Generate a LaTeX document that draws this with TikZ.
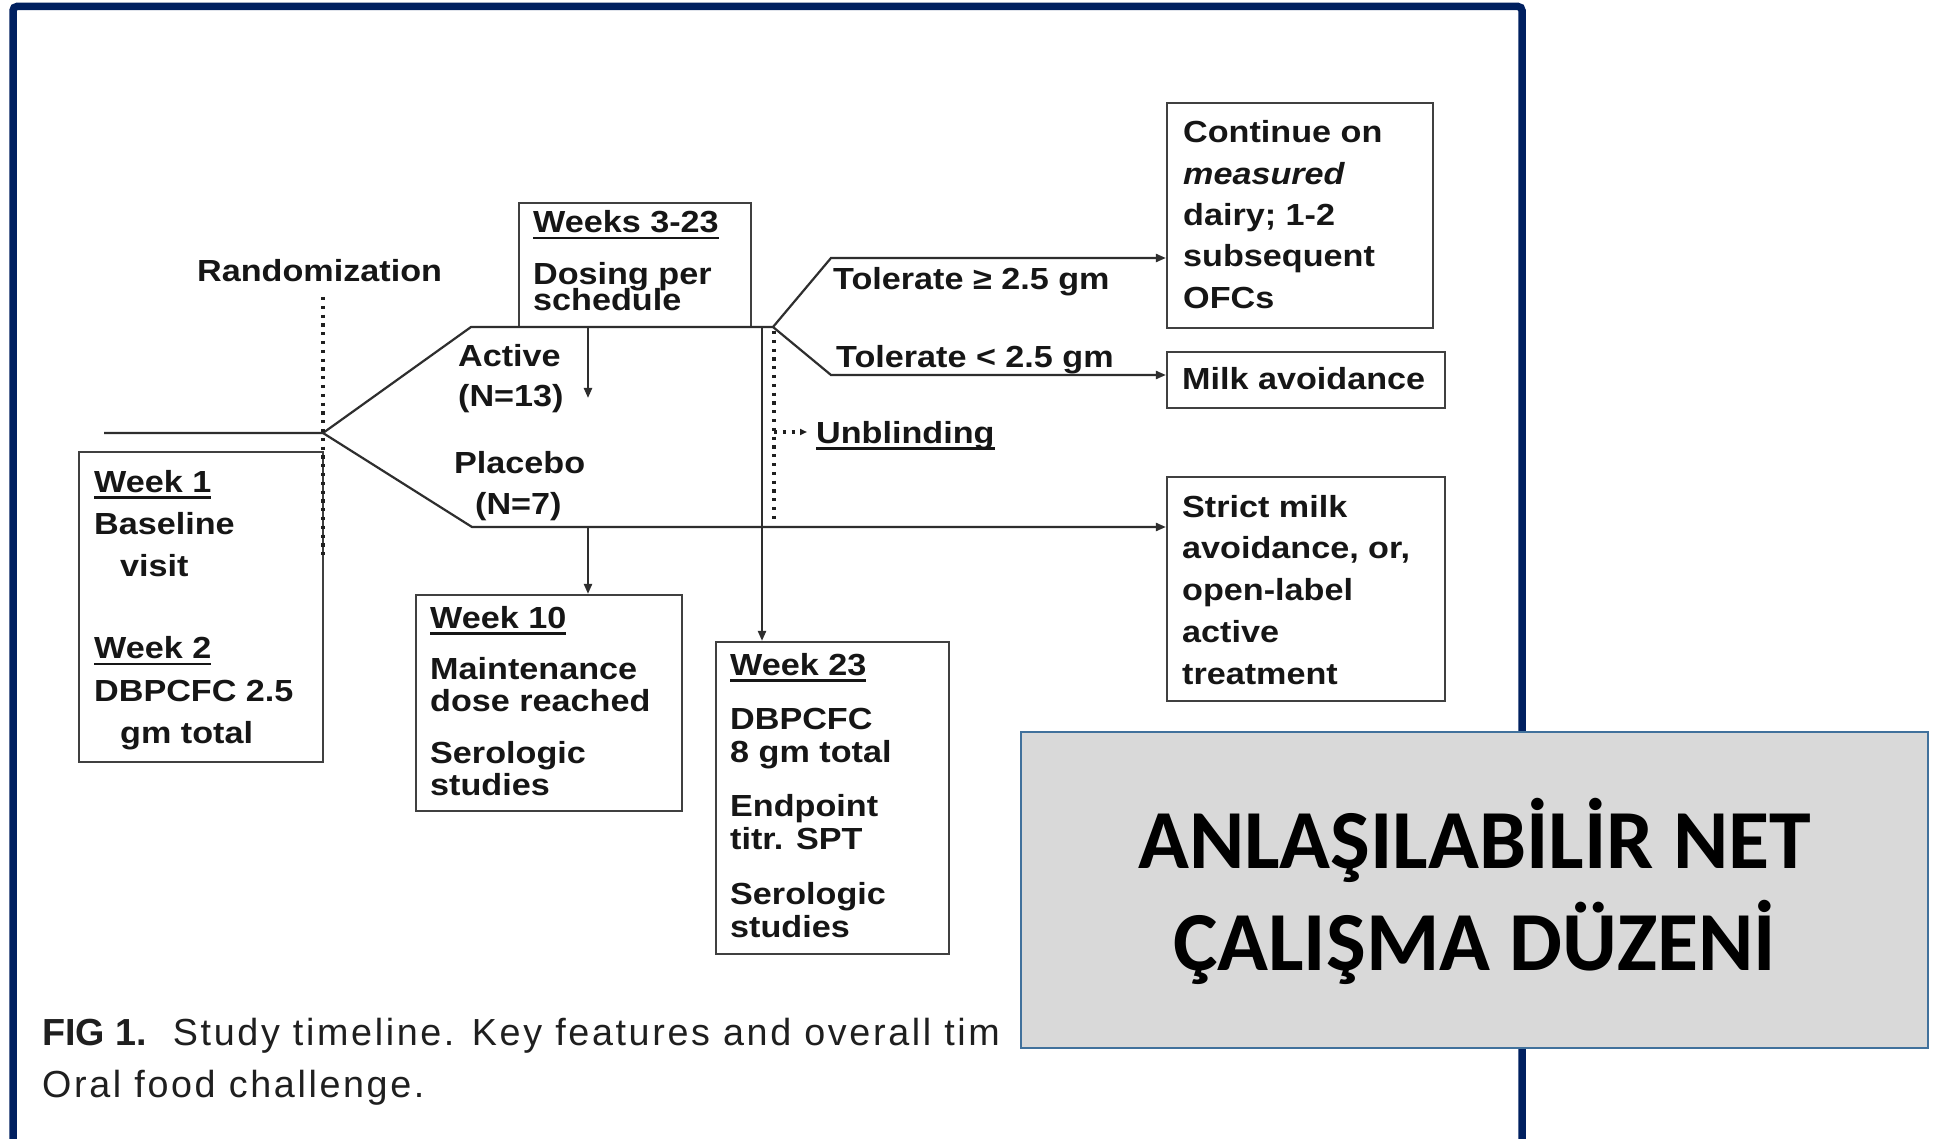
\documentclass[tikz,border=0pt]{standalone}
\usepackage{fontspec}
\usetikzlibrary{arrows.meta}

% fonts: figure text, caption text, banner text
\newfontfamily\figfont[FakeStretch=1.12]{Liberation Sans}
\newfontfamily\capfont[LetterSpace=7]{Liberation Sans}
\newfontfamily\capboldfont{Liberation Sans}
\newfontfamily\bannerfont{Carlito}

\definecolor{navy}{RGB}{0,32,96}
\definecolor{bannerfill}{RGB}{217,217,217}
\definecolor{bannerline}{RGB}{65,113,156}
\definecolor{ink}{RGB}{22,22,22}

% stacked lines, first baseline is the node baseline
\newcommand\leftlines[1]{\vtop{\lineskiplimit=-\maxdimen\lineskip=0pt\halign{##\hfil\cr#1\crcr}}}
\newcommand\centerlines[1]{\vtop{\lineskiplimit=-\maxdimen\lineskip=0pt\halign{\hfil##\hfil\cr#1\crcr}}}
\newcommand\gap[1]{\noalign{\vskip#1}}
% heavy underline for the week headings
\newcommand\ul[1]{\setbox0\hbox{#1}\rlap{\rule[-6.5pt]{\wd0}{2.6pt}}\box0}

\begin{document}
\begin{tikzpicture}[x=1pt,y=-1pt,
  box/.style 2 args={draw=black!75, line width=2.2pt, rectangle, inner sep=0pt,
    minimum width=#1, minimum height=#2},
  txt/.style={anchor=base west, inner sep=0pt, text=ink,
    font=\figfont\bfseries\fontsize{30.5}{41.5}\selectfont},
  line/.style={draw=black!82, line width=2.2pt},
  arr/.style={line, -{Triangle[length=10pt,width=8pt]}},
  dots/.style={draw=black!88, line width=3.2pt, dash pattern=on 3.2pt off 5.6pt},
  frame/.style={draw=navy, line width=7.5pt, rounded corners=4pt}
]
\fill[white] (0,0) rectangle (1936,1139);
\useasboundingbox (0,0) rectangle (1936,1139);

% slide frame
\draw[frame] (13,1150) -- (13,6.5) -- (1522,6.5) -- (1522,1150);

% boxes
\node[box={244}{310}] (wk1) at (201,607) {};
\node[box={232}{124}] (wk323) at (635,265) {};
\node[box={266}{225}] (cont) at (1300,215.5) {};
\node[box={278}{56}] (milk) at (1306,380) {};
\node[box={278}{224}] (strict) at (1306,589) {};
\node[box={266}{216}] (wk10) at (549,703) {};
\node[box={233}{312}] (wk23) at (832.5,798) {};

% junction points of the timeline
\coordinate (start) at (104,433);
\coordinate (rnd) at (323,433);
\coordinate (aj) at (471,327);
\coordinate (tj) at (773,327);
\coordinate (pj) at (472,527);
\coordinate (hi) at (831,258);
\coordinate (lo) at (831,375);
\coordinate (act) at (588,327);
\coordinate (acttip) at (588,398);
\coordinate (plc) at (588,527);
\coordinate (v23) at (762,327);
\coordinate (rtop) at (323,297);
\coordinate (rbot) at (323,557);
\coordinate (dtop) at (774,331);
\coordinate (dbot) at (774,523);
\coordinate (dmid) at (774,432);
\coordinate (dtip) at (807,432);

% connectors
\draw[line] (start) -- (rnd) -- (aj) -- (tj);
\draw[arr] (tj) -- (hi) -- (hi -| cont.west);
\draw[arr] (tj) -- (lo) -- (lo -| milk.west);
\draw[arr] (rnd) -- (pj) -- (pj -| strict.west);
\draw[arr] (act) -- (acttip);
\draw[arr] (plc) -- (plc |- wk10.north);
\draw[arr] (v23) -- (v23 |- wk23.north);
\draw[dots] (rtop) -- (rbot);
\draw[dots] (dtop) -- (dbot);
\draw[dots, -{Triangle[length=7pt,width=6pt]}] (dmid) -- (dtip);

% labels
\node[txt] (lrand) at (197,282) {Randomization};
\node[txt] (lwk323) at (533,233) {\leftlines{\ul{Weeks 3-23}\cr\gap{10.5pt}Dosing per\cr\gap{-15.5pt}schedule}};
\node[txt, font=\figfont\bfseries\fontsize{30.5}{40}\selectfont] (lact) at (458,367) {\leftlines{Active\cr(N=13)}};
\node[txt, font=\figfont\bfseries\fontsize{30.5}{41}\selectfont] (lplc) at (454,473) {\leftlines{Placebo\cr\hspace{21pt}(N=7)}};
\node[txt, font=\figfont\bfseries\fontsize{30.5}{42.3}\selectfont] (lwk1) at (94,492) {\leftlines{\ul{Week 1}\cr Baseline\cr\hspace{26pt}visit\cr\gap{40pt}\ul{Week 2}\cr DBPCFC 2.5\cr\hspace{26pt}gm total}};
\node[txt, font=\figfont\bfseries\fontsize{30.5}{32}\selectfont] (lwk10) at (430,628) {\leftlines{\ul{Week 10}\cr\gap{19pt}Maintenance\cr dose reached\cr\gap{20pt}Serologic\cr studies}};
\node[txt, font=\figfont\bfseries\fontsize{30.5}{33}\selectfont] (lwk23) at (730,675) {\leftlines{\ul{Week 23}\cr\gap{21pt}DBPCFC\cr 8 gm total\cr\gap{21pt}Endpoint\cr titr. SPT\cr\gap{22pt}Serologic\cr studies}};
\node[txt, font=\figfont\bfseries\fontsize{30.5}{41.3}\selectfont] (lcont) at (1183,143) {\leftlines{Continue on\cr{\itshape measured}\cr dairy; 1-2\cr subsequent\cr OFCs}};
\node[txt] (lmilk) at (1182,390) {Milk avoidance};
\node[txt, font=\figfont\bfseries\fontsize{30.5}{41.75}\selectfont] (lstrict) at (1182,517) {\leftlines{Strict milk\cr avoidance, or,\cr open-label\cr active\cr treatment}};
\node[txt] (ltolhi) at (833,290) {Tolerate ≥ 2.5 gm};
\node[txt] (ltollo) at (836,368) {Tolerate < 2.5 gm};
\node[txt] (lunbl) at (816,443) {\ul{Unblinding}};

% caption
\node[anchor=base west, inner sep=0pt, text=black!88,
  font=\capfont\fontsize{37.7}{52}\selectfont] (cap) at (42,1045)
  {\leftlines{{\capboldfont\bfseries FIG 1.}\hspace{26pt}Study timeline. Key features and overall tim\cr Oral food challenge.}};

% banner on top
\node[draw=bannerline, fill=bannerfill, line width=2.5pt, rectangle, inner sep=0pt,
  minimum width=907, minimum height=316] (banner) at (1474.5,890) {};
\node[anchor=base, inner sep=0pt, text=black,
  font=\bannerfont\bfseries\fontsize{84}{102}\selectfont] (head) at (1474.5,868)
  {\centerlines{ANLAŞILABİLİR NET\cr ÇALIŞMA DÜZENİ}};
\end{tikzpicture}
\end{document}
